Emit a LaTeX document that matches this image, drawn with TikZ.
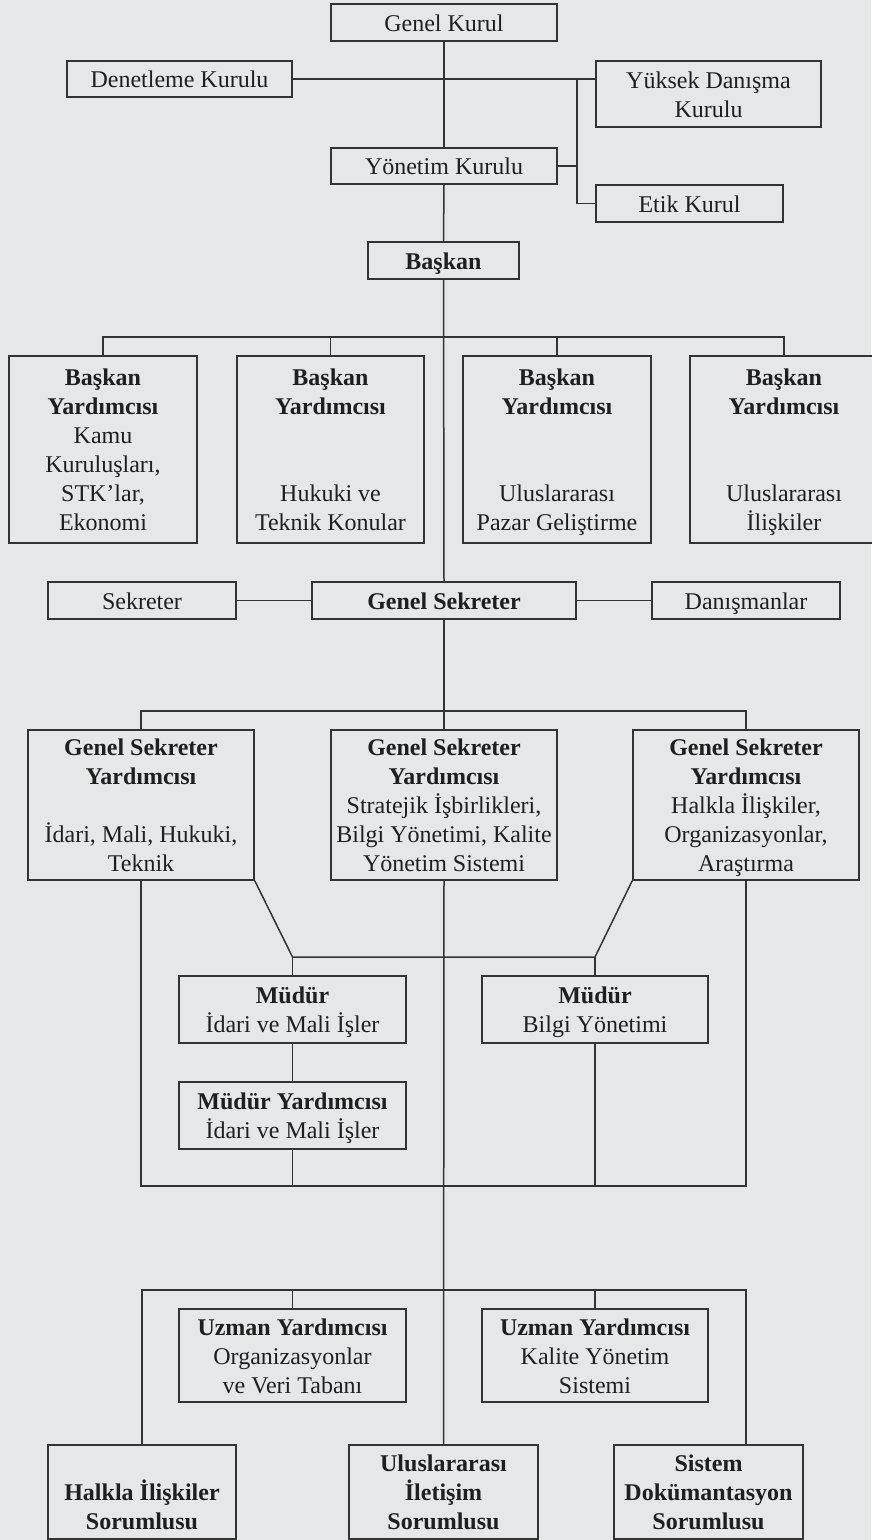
\documentclass[tikz,border=0pt]{standalone}
\usepackage{fontspec}
\setmainfont{Liberation Serif}
\definecolor{bgc}{HTML}{E6E7E8}
\definecolor{linec}{HTML}{333333}
\newcommand{\st}{\rule[-6pt]{0pt}{29pt}}
\begin{document}
\begin{tikzpicture}[x=1pt,y=-1pt,
  box/.style={draw=linec, line width=1.6pt, fill=bgc, inner sep=0pt, align=center,
    font=\fontsize{24}{29}\selectfont, text=black!88},
  conn/.style={draw=linec, line width=1.5pt}]
\useasboundingbox[fill=bgc] (0,0) rectangle (871,1540);
% top
\node[box, minimum width=226, minimum height=37] (gk) at (444,22.5) {\st Genel Kurul};
\node[box, minimum width=225, minimum height=36] (den) at (179.5,79) {\st Denetleme Kurulu};
\node[box, minimum width=225, minimum height=66] (yuk) at (708.5,94) {\st Yüksek Danışma\\Kurulu\st};
\node[box, minimum width=226, minimum height=36] (yon) at (444,166) {\st Yönetim Kurulu};
\node[box, minimum width=187, minimum height=37] (etik) at (689.5,203.5) {\st Etik Kurul};
\node[box, minimum width=151, minimum height=37] (bas) at (443.5,260.5) {\st\textbf{Başkan}};
% vice presidents
\node[box, minimum width=188, minimum height=187] (by1) at (103,449.5) {\st\textbf{Başkan}\\\textbf{Yardımcısı}\\Kamu\\Kuruluşları,\\STK’lar,\\Ekonomi\st};
\node[box, minimum width=187, minimum height=187] (by2) at (330.5,449.5) {\st\textbf{Başkan}\\\textbf{Yardımcısı}\\[58pt]Hukuki ve\\Teknik Konular\st};
\node[box, minimum width=188, minimum height=187] (by3) at (557,449.5) {\st\textbf{Başkan}\\\textbf{Yardımcısı}\\[58pt]Uluslararası\\Pazar Geliştirme\st};
\node[box, minimum width=188, minimum height=187] (by4) at (784,449.5) {\st\textbf{Başkan}\\\textbf{Yardımcısı}\\[58pt]Uluslararası\\İlişkiler\st};
% secretary general row
\node[box, minimum width=188, minimum height=37] (sek) at (142,600.5) {\st Sekreter};
\node[box, minimum width=264, minimum height=37] (gs) at (444,600.5) {\st\textbf{Genel Sekreter}};
\node[box, minimum width=188, minimum height=37] (dan) at (746,600.5) {\st Danışmanlar};
% deputies
\node[box, minimum width=226, minimum height=150] (gsy1) at (141,805) {\st\textbf{Genel Sekreter}\\\textbf{Yardımcısı}\\[29pt]İdari, Mali, Hukuki,\\Teknik\st};
\node[box, minimum width=226, minimum height=150] (gsy2) at (444,805) {\st\textbf{Genel Sekreter}\\\textbf{Yardımcısı}\\Stratejik İşbirlikleri,\\Bilgi Yönetimi, Kalite\\Yönetim Sistemi\st};
\node[box, minimum width=226, minimum height=150] (gsy3) at (746,805) {\st\textbf{Genel Sekreter}\\\textbf{Yardımcısı}\\Halkla İlişkiler,\\Organizasyonlar,\\Araştırma\st};
% directors
\node[box, minimum width=227, minimum height=67] (md1) at (292.5,1009.5) {\st\textbf{Müdür}\\İdari ve Mali İşler\st};
\node[box, minimum width=226, minimum height=67] (md2) at (595,1009.5) {\st\textbf{Müdür}\\Bilgi Yönetimi\st};
\node[box, minimum width=227, minimum height=67] (my1) at (292.5,1115.5) {\st\textbf{Müdür Yardımcısı}\\İdari ve Mali İşler\st};
% experts
\node[box, minimum width=227, minimum height=93] (uz1) at (292.5,1355.5) {\st\textbf{Uzman Yardımcısı}\\Organizasyonlar\\ve Veri Tabanı\st};
\node[box, minimum width=226, minimum height=93] (uz2) at (595,1355.5) {\st\textbf{Uzman Yardımcısı}\\Kalite Yönetim\\Sistemi\st};
% bottom
\node[box, minimum width=188, minimum height=94] (b1) at (142,1492) {\st\\\textbf{Halkla İlişkiler}\\\textbf{Sorumlusu}\st};
\node[box, minimum width=189, minimum height=94] (b2) at (443.5,1492) {\st\textbf{Uluslararası}\\\textbf{İletişim}\\\textbf{Sorumlusu}\st};
\node[box, minimum width=189, minimum height=94] (b3) at (708.5,1492) {\st\textbf{Sistem}\\\textbf{Dokümantasyon}\\\textbf{Sorumlusu}\st};
% coordinates
\coordinate (kbus) at (577,79);
\coordinate (bus1) at (444,337);
\coordinate (bus2) at (444,711);
\coordinate (m1) at (292.5,957);
\coordinate (m2) at (595,957);
\coordinate (bus3) at (444,1186);
\coordinate (bus4) at (444,1290);
\coordinate (b3in) at (746,1445);
% connectors
\draw[conn] (gk.south) -- (yon.north);
\draw[conn] (den.east) -- (den.east -| yuk.west);
\draw[conn] (kbus) -- (kbus |- etik.west) -- (etik.west);
\draw[conn] (yon.east) -- (yon.east -| kbus);
\draw[conn] (yon.south) -- (bas.north);
\draw[conn] (bas.south) -- (gs.north);
\draw[conn] (by1.north) |- (bus1) -| (by4.north);
\draw[conn] (by2.north) |- (bus1);
\draw[conn] (by3.north) |- (bus1);
\draw[conn] (sek.east) -- (gs.west);
\draw[conn] (gs.east) -- (dan.west);
\draw[conn] (gs.south) -- (gsy2.north);
\draw[conn] (gsy1.north) |- (bus2) -| (gsy3.north);
\draw[conn] (gsy1.south east) -- (m1) -- (m2) -- (gsy3.south west);
\draw[conn] (m1) -- (md1.north);
\draw[conn] (m2) -- (md2.north);
\draw[conn] (md1.south) -- (my1.north);
\draw[conn] (gsy1.south) |- (bus3) -| (gsy3.south);
\draw[conn] (my1.south) -- (my1.south |- bus3);
\draw[conn] (md2.south) -- (md2.south |- bus3);
\draw[conn] (gsy2.south) -- (b2.north);
\draw[conn] (b1.north) |- (bus4) -| (b3in);
\draw[conn] (uz1.north) -- (uz1.north |- bus4);
\draw[conn] (uz2.north) -- (uz2.north |- bus4);
\end{tikzpicture}
\end{document}
